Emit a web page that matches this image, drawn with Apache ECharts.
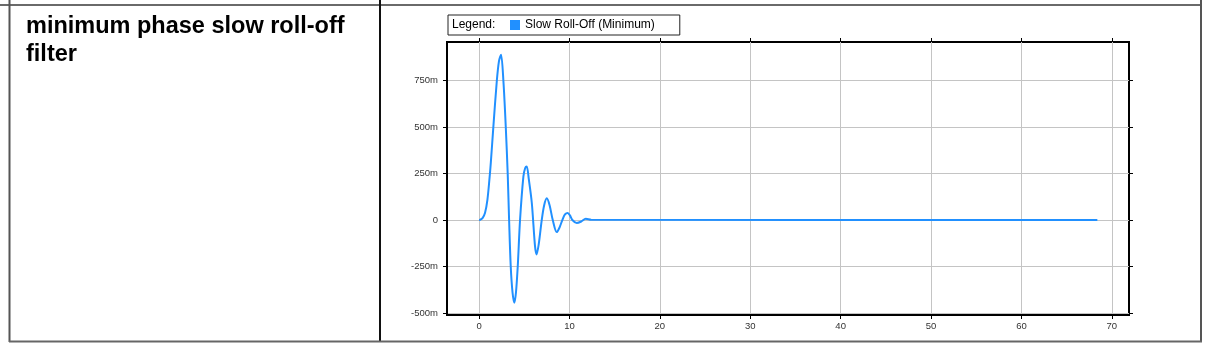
<!DOCTYPE html>
<html>
<head>
<meta charset="utf-8">
<script src="https://cdn.jsdelivr.net/npm/echarts@6/dist/echarts.min.js"></script>
<style>
html,body{margin:0;padding:0;background:#fff;}
#chart{width:1210px;height:349px;}
</style>
</head>
<body>
<div id="chart"></div>
<script>
// ---- data ----
var rowTitle = 'minimum phase slow roll-off\nfilter';
var seriesName = 'Slow Roll-Off (Minimum)';
var timeValues = [0, 0.1, 0.4, 0.66, 0.92, 1.14, 1.3, 1.58, 1.96, 2.2, 2.43, 2.69, 2.95, 3.17, 3.32, 3.5, 3.7, 3.9, 4.08, 4.28, 4.53, 4.9, 5.1, 5.27, 5.5, 5.83, 6.19, 6.36, 6.6, 6.93, 7.2, 7.49, 7.8, 8.15, 8.59, 8.9, 9.21, 9.5, 9.81, 10.05, 10.32, 10.8, 11.3, 11.8, 12.4, 68.4];
var amplitudeValues = [0, 0.001, 0.012, 0.039, 0.109, 0.217, 0.31, 0.503, 0.748, 0.855, 0.89, 0.748, 0.503, 0.243, 0, -0.249, -0.39, -0.445, -0.39, -0.246, 0, 0.234, 0.28, 0.288, 0.22, 0.093, -0.142, -0.185, -0.13, 0, 0.08, 0.117, 0.08, 0, -0.065, -0.04, 0, 0.03, 0.038, 0.025, 0, -0.016, -0.008, 0.007, 0.002, 0];
var xTickValues = [0, 10, 20, 30, 40, 50, 60, 70];
var yTickValues = [-0.5, -0.25, 0, 0.25, 0.5, 0.75];
var xRange = [-3.55, 71.9];
var yRange = [-0.511, 0.958];

function yLabel(v) {
  if (Math.abs(v) < 1e-9) return '0';
  return Math.round(v * 1000) + 'm';
}

var lineData = timeValues.map(function (t, i) { return [t, amplitudeValues[i]]; });

var chart = echarts.init(document.getElementById('chart'), null, {renderer: 'canvas'});
var font = 'Liberation Sans, Arial, sans-serif';
var blue = '#2190ff';

chart.setOption({
  animation: false,
  backgroundColor: '#fff',
  textStyle: {fontFamily: font},
  grid: {
    left: 447, right: 81, top: 42, bottom: 34,
    show: true, borderColor: '#000', borderWidth: 2, backgroundColor: 'transparent',
    containLabel: false
  },
  legend: {
    left: 448, top: 15,
    padding: [4, 25, 4, 62],
    borderColor: '#222', borderWidth: 1,
    itemWidth: 10, itemHeight: 10,
    icon: 'rect',
    textStyle: {fontSize: 12, color: '#000', fontFamily: font},
    data: [seriesName]
  },
  graphic: [
    {type: 'line', shape: {x1: 0, y1: 5, x2: 1202, y2: 5}, style: {stroke: '#6a6a6a', lineWidth: 2}, silent: true},
    {type: 'line', shape: {x1: 9.5, y1: 0, x2: 9.5, y2: 342}, style: {stroke: '#555', lineWidth: 2}, silent: true},
    {type: 'line', shape: {x1: 380, y1: 0, x2: 380, y2: 342}, style: {stroke: '#111', lineWidth: 2}, silent: true},
    {type: 'line', shape: {x1: 1201, y1: 0, x2: 1201, y2: 342}, style: {stroke: '#555', lineWidth: 2}, silent: true},
    {type: 'line', shape: {x1: 9, y1: 341.5, x2: 1202, y2: 341.5}, style: {stroke: '#666', lineWidth: 2}, silent: true},
    {type: 'text', left: 26, top: 13, silent: true,
      style: {text: rowTitle, font: 'bold 23.5px Liberation Sans, Arial, sans-serif', fill: '#000', lineHeight: 28}},
    {type: 'text', left: 452, top: 19, silent: true,
      style: {text: 'Legend:', font: '12px Liberation Sans, Arial, sans-serif', fill: '#000'}}
  ],
  xAxis: [{
    type: 'value', position: 'bottom', min: xRange[0], max: xRange[1],
    axisLine: {show: true, onZero: false, lineStyle: {color: '#000', width: 2}},
    axisTick: {show: true, length: 4, customValues: xTickValues, lineStyle: {color: '#000'}},
    axisLabel: {show: true, customValues: xTickValues, fontSize: 9.5, color: '#333', margin: 6,
      formatter: function (v) { return String(v); }},
    splitLine: {show: true, lineStyle: {color: '#c4c4c4', width: 1}}
  }, {
    type: 'value', position: 'top', min: xRange[0], max: xRange[1],
    axisLine: {show: false, onZero: false},
    axisTick: {show: true, length: 4, customValues: xTickValues, lineStyle: {color: '#000'}},
    axisLabel: {show: false},
    splitLine: {show: false}
  }],
  yAxis: [{
    type: 'value', position: 'left', min: yRange[0], max: yRange[1],
    axisLine: {show: true, onZero: false, lineStyle: {color: '#000', width: 2}},
    axisTick: {show: true, length: 4, customValues: yTickValues, lineStyle: {color: '#000'}},
    axisLabel: {show: true, customValues: yTickValues, fontSize: 9.5, color: '#333', margin: 9,
      formatter: yLabel},
    splitLine: {show: true, lineStyle: {color: '#c4c4c4', width: 1}}
  }, {
    type: 'value', position: 'right', min: yRange[0], max: yRange[1],
    axisLine: {show: false, onZero: false},
    axisTick: {show: true, length: 4, customValues: yTickValues, lineStyle: {color: '#000'}},
    axisLabel: {show: false},
    splitLine: {show: false}
  }],
  series: [{
    name: seriesName,
    type: 'line',
    xAxisIndex: 0, yAxisIndex: 0,
    data: lineData,
    showSymbol: false,
    smooth: 0.3,
    lineStyle: {color: blue, width: 2},
    itemStyle: {color: blue}
  }]
});
</script>
</body>
</html>
